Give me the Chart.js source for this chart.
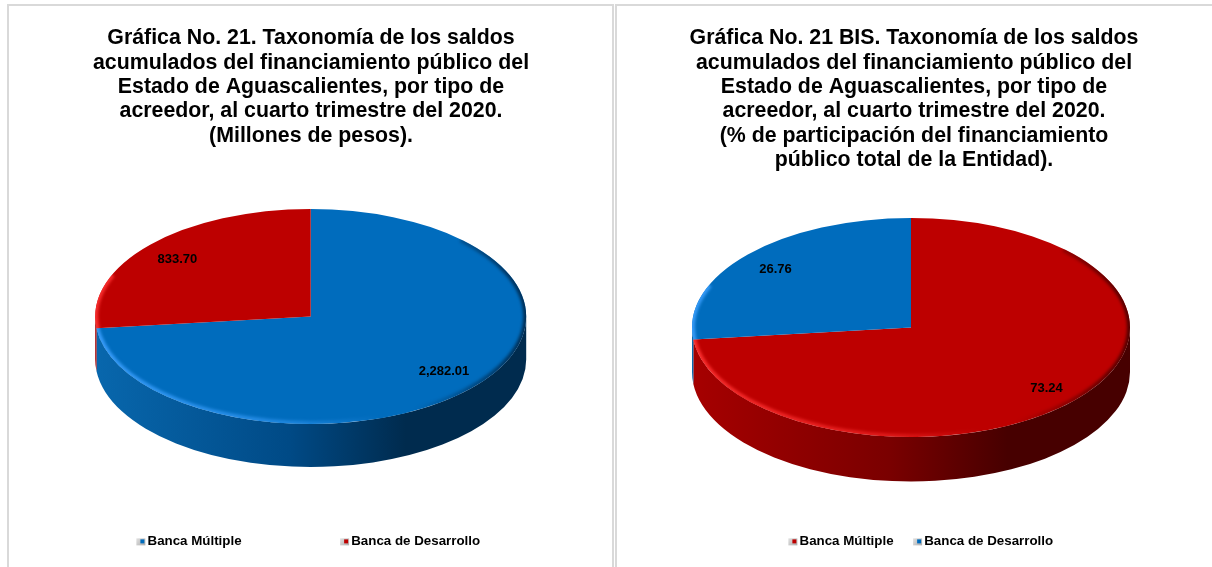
<!DOCTYPE html>
<html>
<head>
<meta charset="utf-8">
<script src="https://cdn.jsdelivr.net/npm/chart.js@4"></script>
<style>
  html, body { margin: 0; padding: 0; background: #fff; overflow: hidden; }
  #page { position: relative; width: 1212px; height: 567px; }
  .panel { position: absolute; top: 4px; height: 563px; box-sizing: border-box;
           border-top: 2px solid #d9d9d9; }
  canvas { position: absolute; top: 0; }
</style>
</head>
<body>
<div id="page">
  <div class="panel" style="left:7px;width:607px;border-left:2px solid #d9d9d9;border-right:2px solid #d9d9d9"></div>
  <div class="panel" style="left:615px;width:597px;border-left:2px solid #d9d9d9"></div>
  <canvas id="chartLeft" width="608" height="567" style="left:7px"></canvas>
  <canvas id="chartRight" width="596" height="567" style="left:616px"></canvas>
</div>
<script>
var categories = ['Banca Múltiple', 'Banca de Desarrollo'];
var saldos = [2282.01, 833.70];
var participacion = [73.24, 26.76];
var saldosLabels = ['2,282.01', '833.70'];
var participacionLabels = ['73.24', '26.76'];

var tituloSaldos = [
  'Gráfica No. 21. Taxonomía de los saldos',
  'acumulados del financiamiento público del',
  'Estado de Aguascalientes, por tipo de',
  'acreedor, al cuarto trimestre del 2020.',
  '(Millones de pesos).'
];
var tituloParticipacion = [
  'Gráfica No. 21 BIS. Taxonomía de los saldos',
  'acumulados del financiamiento público del',
  'Estado de Aguascalientes, por tipo de',
  'acreedor, al cuarto trimestre del 2020.',
  '(% de participación del financiamiento',
  'público total de la Entidad).'
];

var BLUE = { top: '#006cbd', wall: ['#0867ad', '#004a86', '#002b4e', '#002b4e'], rim: '60,160,255', dark: '0,40,75' };
var RED = { top: '#bd0000', wall: ['#a60000', '#7a0000', '#470000', '#470000'], rim: '255,50,50', dark: '70,0,0' };

// little legend square with a grey shadow, blank on the left so it sits next to the text
function legendMark(color) {
  var c = document.createElement('canvas');
  c.width = 12; c.height = 10;
  var g = c.getContext('2d');
  var grad = g.createLinearGradient(2, 1, 12, 9);
  grad.addColorStop(0, '#e4e4e4');
  grad.addColorStop(1, '#a9a9a9');
  g.fillStyle = grad;
  g.fillRect(2, 2, 9, 7);
  g.fillStyle = color;
  g.fillRect(6, 3, 4, 4);
  return c;
}

// squashes the flat pie of the library into an ellipse and puts a wall under it
var pie3d = {
  id: 'pie3d',
  afterLayout: function(chart, args, o) {
    chart.legend.left += o.legendShift;
    chart.legend.right += o.legendShift;
  },
  beforeDatasetsDraw: function(chart, args, o) {
    var ctx = chart.ctx;
    var arcs = chart.getDatasetMeta(0).data;
    var R = arcs[0].outerRadius;
    var cx = arcs[0].x, cy = arcs[0].y;
    ctx.save();
    // wall, seen only on the front half
    arcs.forEach(function(arc, i) {
      var a1 = Math.max(arc.startAngle, 0), a2 = Math.min(arc.endAngle, Math.PI);
      if (a2 <= a1) return;
      var grad = ctx.createLinearGradient(o.cx - o.rx, 0, o.cx + o.rx, 0);
      o.colors[i].wall.forEach(function(col, k) {
        grad.addColorStop([0, 0.45, 0.72, 1][k], col);
      });
      ctx.beginPath();
      ctx.ellipse(o.cx, o.cy, o.rx, o.ry, 0, a1, a2);
      ctx.ellipse(o.cx, o.cy + o.depth, o.rx, o.ry, 0, a2, a1, true);
      ctx.closePath();
      ctx.fillStyle = grad;
      ctx.fill();
    });
    ctx.restore();
    ctx.save();
    ctx.translate(o.cx, o.cy);
    ctx.scale(o.rx / R, o.ry / R);
    ctx.translate(-cx, -cy);
  },
  afterDatasetsDraw: function(chart, args, o) {
    var ctx = chart.ctx;
    ctx.restore();
    var arcs = chart.getDatasetMeta(0).data;
    // soft bevel on the front edge of the top face
    arcs.forEach(function(arc, i) {
      var col = o.colors[i];
      ctx.save();
      ctx.beginPath();
      ctx.moveTo(o.cx, o.cy);
      ctx.ellipse(o.cx, o.cy, o.rx, o.ry, 0, arc.startAngle, arc.endAngle);
      ctx.closePath();
      ctx.clip();
      var grad = ctx.createLinearGradient(o.cx - o.rx, 0, o.cx + o.rx, 0);
      grad.addColorStop(0, 'rgba(' + col.rim + ',0.9)');
      grad.addColorStop(0.45, 'rgba(' + col.rim + ',0.5)');
      grad.addColorStop(0.66, 'rgba(' + col.rim + ',0)');
      grad.addColorStop(0.74, 'rgba(' + col.dark + ',0)');
      grad.addColorStop(1, 'rgba(' + col.dark + ',0.9)');
      ctx.strokeStyle = grad;
      ctx.filter = 'blur(1.5px)';
      ctx.lineWidth = 6;
      ctx.beginPath();
      ctx.ellipse(o.cx, o.cy, o.rx, o.ry, 0, -0.8, Math.PI + 0.4);
      ctx.stroke();
      ctx.restore();
    });
    // value labels
    ctx.save();
    ctx.font = 'bold 13px "Liberation Sans"';
    ctx.fillStyle = '#000';
    ctx.textAlign = 'center';
    ctx.textBaseline = 'middle';
    arcs.forEach(function(arc, i) {
      var mid = (arc.startAngle + arc.endAngle) / 2;
      ctx.fillText(o.labels[i], o.cx + Math.cos(mid) * o.rx * 0.83, o.cy + Math.sin(mid) * o.ry * o.labelRatio[i]);
    });
    ctx.restore();
  }
};

function makePie(id, values, title, colors, labels, box) {
  return new Chart(document.getElementById(id), {
    type: 'pie',
    data: {
      labels: categories,
      datasets: [{
        data: values,
        backgroundColor: colors.map(function(c) { return c.top; }),
        borderWidth: 0
      }]
    },
    plugins: [pie3d],
    options: {
      responsive: false,
      animation: false,
      rotation: 0,
      layout: { padding: { bottom: 9 } },
      plugins: {
        tooltip: { enabled: false },
        title: {
          display: true,
          text: title,
          color: '#000',
          font: { family: '"Liberation Sans"', size: 21.33, weight: 'bold', lineHeight: 1.145 },
          padding: { top: 26, bottom: 6 }
        },
        legend: {
          position: 'bottom',
          labels: {
            color: '#000',
            font: { family: '"Liberation Sans"', size: 13.33, weight: 'bold' },
            usePointStyle: true,
            pointStyleWidth: 1,
            padding: box.legendGap,
            generateLabels: function(chart) {
              return chart.data.labels.map(function(text, i) {
                return { text: text, index: i, fontColor: '#000', pointStyle: legendMark(colors[i].top), hidden: false };
              });
            }
          }
        },
        pie3d: {
          cx: box.cx, cy: box.cy, rx: box.rx, ry: box.ry, depth: box.depth,
          colors: colors, labels: labels, labelRatio: box.labelRatio, legendShift: box.legendShift
        }
      }
    }
  });
}

makePie('chartLeft', saldos, tituloSaldos, [BLUE, RED], saldosLabels,
  { cx: 303.7, cy: 316.5, rx: 215.5, ry: 107.5, depth: 43, legendGap: 102, legendShift: -1, labelRatio: [0.76, 0.8] });
makePie('chartRight', participacion, tituloParticipacion, [RED, BLUE], participacionLabels,
  { cx: 295, cy: 327.5, rx: 219, ry: 109.5, depth: 44.5, legendGap: 23, legendShift: 8.5, labelRatio: [0.83, 0.8] });
</script>
</body>
</html>
